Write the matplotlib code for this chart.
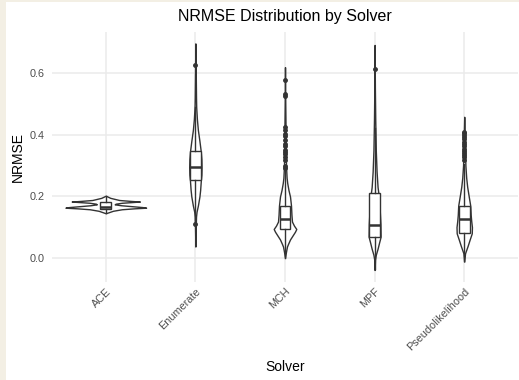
import matplotlib.pyplot as plt
import matplotlib.patches as patches

# data
SOLVERS = ["ACE", "Enumerate", "MCH", "MPF", "Pseudolikelihood"]

# violin outline: NRMSE levels and half-widths (in category units)
VIOLIN_Y = [
    [0.202, 0.195, 0.188, 0.185, 0.183, 0.181, 0.179, 0.176, 0.174, 0.171,
     0.168, 0.165, 0.163, 0.161, 0.158, 0.153, 0.145],
    [0.696, 0.60, 0.52, 0.49, 0.45, 0.415, 0.38, 0.348, 0.32, 0.294, 0.27,
     0.253, 0.22, 0.199, 0.17, 0.15, 0.134, 0.10, 0.037],
    [0.619, 0.50, 0.40, 0.30, 0.26, 0.243, 0.22, 0.199, 0.17, 0.14, 0.118,
     0.105, 0.094, 0.085, 0.075, 0.06, 0.045, 0.037, 0.02, 0.0],
    [0.691, 0.55, 0.45, 0.35, 0.28, 0.23, 0.21, 0.16, 0.11, 0.069, 0.05,
     0.03, 0.01, -0.006, -0.039],
    [0.458, 0.41, 0.35, 0.30, 0.26, 0.231, 0.20, 0.17, 0.14, 0.12, 0.10,
     0.08, 0.06, 0.04, 0.015, -0.012],
]
VIOLIN_W = [
    [0.0, 0.05, 0.15, 0.28, 0.38, 0.28, 0.18, 0.11, 0.10, 0.17, 0.29, 0.41,
     0.45, 0.32, 0.18, 0.08, 0.0],
    [0.0, 0.004, 0.007, 0.009, 0.017, 0.028, 0.045, 0.059, 0.067, 0.069,
     0.067, 0.061, 0.053, 0.045, 0.028, 0.013, 0.007, 0.004, 0.0],
    [0.0, 0.003, 0.007, 0.011, 0.018, 0.025, 0.039, 0.056, 0.067, 0.072,
     0.078, 0.100, 0.126, 0.111, 0.089, 0.056, 0.033, 0.022, 0.011, 0.0],
    [0.0, 0.003, 0.007, 0.013, 0.022, 0.033, 0.042, 0.056, 0.065, 0.067,
     0.050, 0.033, 0.013, 0.004, 0.0],
    [0.0, 0.004, 0.009, 0.013, 0.022, 0.033, 0.050, 0.067, 0.072, 0.078,
     0.086, 0.084, 0.061, 0.039, 0.009, 0.0],
]

# boxplot statistics
Q1 = [0.160, 0.253, 0.093, 0.067, 0.080]
MEDIAN = [0.166, 0.294, 0.126, 0.107, 0.126]
Q3 = [0.183, 0.348, 0.170, 0.210, 0.170]
WHISK_LO = [0.147, 0.115, 0.0, -0.035, -0.01]
WHISK_HI = [0.200, 0.49, 0.286, 0.42, 0.305]
OUTLIERS = [
    [],
    [0.626, 0.109],
    [0.577, 0.533, 0.527, 0.424, 0.415, 0.402, 0.395, 0.384, 0.371, 0.362,
     0.351, 0.343, 0.336, 0.327, 0.318, 0.298, 0.291],
    [0.612],
    [0.409, 0.404, 0.398, 0.391, 0.385, 0.377, 0.369, 0.362, 0.355, 0.347,
     0.340, 0.333, 0.326, 0.319],
]

plt.rcParams['font.family'] = ['Liberation Sans', 'DejaVu Sans']

LINE = '#333333'
GRID = '#EBEBEB'

fig = plt.figure(figsize=(5.19, 3.80), dpi=100)
fig.patch.set_facecolor('white')

# beige frame strips on the left and top
fig.patches.append(patches.Rectangle((0, 0), 6 / 519, 1, transform=fig.transFigure,
                                     facecolor='#F3EFE4', edgecolor='none', zorder=0))
fig.patches.append(patches.Rectangle((0, 1 - 2 / 380), 1, 2 / 380, transform=fig.transFigure,
                                     facecolor='#F3EFE4', edgecolor='none', zorder=0))

ax = fig.add_axes([52 / 519, 98 / 380, 466 / 519, 250 / 380])
ax.set_facecolor('white')

positions = list(range(1, len(SOLVERS) + 1))

for pos, ys, ws in zip(positions, VIOLIN_Y, VIOLIN_W):
    left = [pos - w for w in ws]
    right = [pos + w for w in ws]
    ax.fill_betweenx(ys, left, right, facecolor='white', edgecolor=LINE,
                     linewidth=1.0, zorder=2)

stats = []
for i, name in enumerate(SOLVERS):
    stats.append({
        'label': name, 'q1': Q1[i], 'med': MEDIAN[i], 'q3': Q3[i],
        'whislo': WHISK_LO[i], 'whishi': WHISK_HI[i], 'fliers': OUTLIERS[i],
    })

ax.bxp(stats, positions=positions, widths=0.12, patch_artist=True,
       showcaps=False,
       boxprops=dict(facecolor='white', edgecolor=LINE, linewidth=1.0),
       medianprops=dict(color=LINE, linewidth=1.8),
       whiskerprops=dict(color=LINE, linewidth=1.0),
       flierprops=dict(marker='o', markersize=2.5, markerfacecolor=LINE,
                       markeredgecolor=LINE, linestyle='none'),
       zorder=3)

ax.set_xlim(0.4, 5.6)
ax.set_ylim(-0.078, 0.733)
ax.set_yticks([0.0, 0.2, 0.4, 0.6])
ax.set_yticklabels(['0.0', '0.2', '0.4', '0.6'])
ax.set_xticks(positions)
ax.set_xticklabels(SOLVERS, rotation=45, ha='right', va='top',
                   rotation_mode='anchor')

ax.grid(True, color=GRID, linewidth=1.1, zorder=0)
ax.set_axisbelow(True)
for s in ax.spines.values():
    s.set_visible(False)
ax.tick_params(axis='both', length=0, labelsize=7.8, labelcolor='#4D4D4D')
ax.tick_params(axis='y', pad=5)
ax.tick_params(axis='x', pad=3)

fig.text(285 / 519, 1 - 16 / 380, "NRMSE Distribution by Solver",
         ha='center', va='center', fontsize=11.5, color='black')
fig.text(285 / 519, 1 - 367 / 380, "Solver", ha='center', va='center',
         fontsize=10, color='black')
fig.text(18 / 519, 1 - 157 / 380, "NRMSE", ha='center', va='center',
         rotation=90, fontsize=10, color='black')

fig.savefig('out.png', dpi=100)
